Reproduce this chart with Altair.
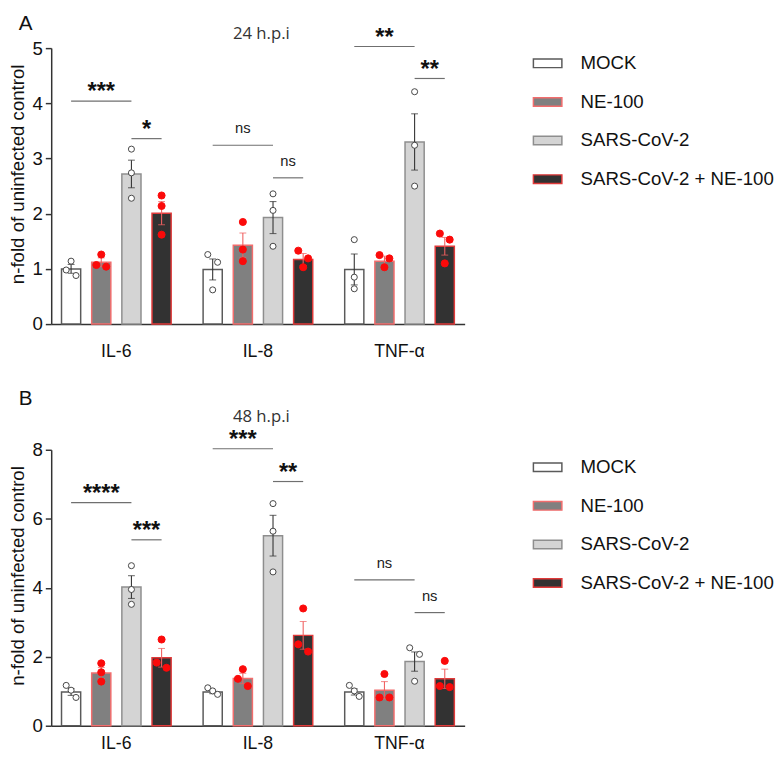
import altair as alt
import pandas as pd

# ---------------- data ----------------
cytokines = ["IL-6", "IL-8", "TNF-α"]
groups = ["MOCK", "NE-100", "SARS-CoV-2", "SARS-CoV-2 + NE-100"]

# Panel A : 24 h.p.i  (bar heights, SEM, individual replicates)
a_means = {"IL-6": [1.00, 1.12, 2.72, 2.01],
           "IL-8": [0.99, 1.43, 1.93, 1.17],
           "TNF-α": [0.99, 1.14, 3.30, 1.41]}
a_sems = {"IL-6": [0.08, 0.08, 0.25, 0.21],
          "IL-8": [0.19, 0.22, 0.29, 0.11],
          "TNF-α": [0.28, 0.09, 0.51, 0.16]}
a_reps = {"IL-6": [[0.98, 1.14, 0.88], [1.07, 1.26, 1.04], [3.17, 2.74, 2.28], [2.33, 2.14, 1.62]],
          "IL-8": [[1.26, 1.12, 0.62], [1.85, 1.35, 1.14], [2.36, 2.06, 1.41], [1.33, 1.19, 1.03]],
          "TNF-α": [[1.53, 0.85, 0.64], [1.25, 1.19, 1.03], [4.21, 3.24, 2.50], [1.64, 1.53, 1.10]]}
a_sig_cyt = ["IL-6", "IL-6", "IL-8", "IL-8", "TNF-α", "TNF-α"]
a_sig_from = ["MOCK", "SARS-CoV-2", "MOCK", "SARS-CoV-2", "MOCK", "SARS-CoV-2"]
a_sig_to = ["SARS-CoV-2", "SARS-CoV-2 + NE-100"] * 3
a_sig_y = [4.04, 3.36, 3.24, 2.65, 5.03, 4.45]
a_sig_label = ["***", "*", "ns", "ns", "**", "**"]

# Panel B : 48 h.p.i
b_means = {"IL-6": [0.98, 1.53, 4.02, 1.97],
           "IL-8": [0.98, 1.37, 5.51, 2.62],
           "TNF-α": [0.98, 1.03, 1.86, 1.36]}
b_sems = {"IL-6": [0.10, 0.16, 0.33, 0.27],
          "IL-8": [0.05, 0.15, 0.59, 0.40],
          "TNF-α": [0.09, 0.25, 0.28, 0.28]}
b_reps = {"IL-6": [[1.03, 1.17, 0.82], [1.81, 1.55, 1.28], [4.64, 3.95, 3.52], [2.50, 1.83, 1.68]],
          "IL-8": [[1.10, 1.01, 0.91], [1.64, 1.36, 1.15], [6.44, 5.64, 4.46], [3.40, 2.36, 2.15]],
          "TNF-α": [[1.01, 1.17, 0.85], [1.50, 0.82, 0.82], [2.26, 2.07, 1.29], [1.88, 1.15, 1.12]]}
b_sig_cyt = ["IL-6", "IL-6", "IL-8", "IL-8", "TNF-α", "TNF-α"]
b_sig_from = ["MOCK", "SARS-CoV-2", "MOCK", "SARS-CoV-2", "MOCK", "SARS-CoV-2"]
b_sig_to = ["SARS-CoV-2", "SARS-CoV-2 + NE-100"] * 3
b_sig_y = [6.47, 5.39, 8.03, 7.08, 4.23, 3.28]
b_sig_label = ["****", "***", "***", "**", "ns", "ns"]

# ---------------- styles ----------------
fill_colors = ["#ffffff", "#808080", "#d4d4d4", "#323232"]
stroke_colors = ["#5a5a5a", "#f26d6d", "#8e8e8e", "#e03a3a"]
FONT = "Liberation Sans"

W, H = 421, 281
X_PI, X_PO = 0.2, 0.06
O_PI, O_PO = 0.365, 0.06
step = W / (3 - X_PI + 2 * X_PO)
bw = (1 - X_PI) * step
ostep = bw / (4 - O_PI + 2 * O_PO)
o_first = O_PO * ostep + (1 - O_PI) * ostep / 2
OFF_Q = alt.Scale(domain=[0, 3], range=[o_first, o_first + 3 * ostep])
JIT = 5.0 / ostep  # sideways spread of overlapping dots (in group units)


def spread(vals, thr):
    """Beeswarm-like sideways slot for dots that would overlap."""
    order = sorted(range(len(vals)), key=lambda i: -vals[i])
    slots = [0] * len(vals)
    clusters, cur = [], [order[0]]
    for a, b in zip(order, order[1:]):
        if vals[a] - vals[b] < thr:
            cur.append(b)
        else:
            clusters.append(cur)
            cur = [b]
    clusters.append(cur)
    for c in clusters:
        if len(c) == 2:
            slots[c[0]], slots[c[1]] = -1, 1
        elif len(c) >= 3:
            slots[c[0]], slots[c[1]], slots[c[2]] = -1, 0, 1
    return slots


def panel(means, sems, reps, s_cyt, s_from, s_to, s_y, s_lab, ymax, yvals,
          letter, title, letter_y, title_y, legend_y, xlab_pad):
    bar_rows, pt_rows = [], []
    thr = 8.5 * ymax / H
    for c in cytokines:
        for gi, g in enumerate(groups):
            bar_rows.append({"cyt": c, "group": g, "gi": gi, "mean": means[c][gi],
                             "sem": sems[c][gi], "treated": "NE-100" in g})
            sl = spread(reps[c][gi], thr)
            for v, s in zip(reps[c][gi], sl):
                pt_rows.append({"cyt": c, "group": g, "gi": gi, "value": v,
                                "slot": s, "treated": "NE-100" in g})
    bars_df = pd.DataFrame(bar_rows)
    pts_df = pd.DataFrame(pt_rows)

    line_rows, txt_rows = [], []
    for k, (c, f, t, y, lab) in enumerate(zip(s_cyt, s_from, s_to, s_y, s_lab)):
        fi, ti = groups.index(f), groups.index(t)
        line_rows.append({"id": k, "cyt": c, "gi": fi, "y": y})
        line_rows.append({"id": k, "cyt": c, "gi": ti, "y": y})
        txt_rows.append({"cyt": c, "mid": (fi + ti) / 2, "y": y, "label": lab,
                         "star": lab != "ns"})
    line_df = pd.DataFrame(line_rows)
    txt_df = pd.DataFrame(txt_rows)

    X = alt.X("cyt:N", sort=cytokines,
              scale=alt.Scale(paddingInner=X_PI, paddingOuter=X_PO),
              axis=alt.Axis(title=None, labelAngle=0, ticks=False, tickSize=0,
                            labelPadding=xlab_pad, labelFont=FONT, labelFontSize=18,
                            labelColor="#111", domainColor="#333", domainWidth=1.5,
                            grid=False))
    yscale = alt.Scale(domain=[0, ymax], nice=False, zero=True)
    yaxis = alt.Axis(values=yvals, grid=False, title="n-fold of uninfected control",
                     titleFont=FONT, titleFontSize=19, titleFontWeight="normal",
                     titleColor="#111", titlePadding=5, titleY=128, labelFont=FONT,
                     labelFontSize=19, labelColor="#111", labelPadding=3,
                     tickSize=6, tickColor="#333", tickWidth=1.5,
                     domainColor="#333", domainWidth=1.5)
    XO = alt.XOffset("group:N", sort=groups,
                     scale=alt.Scale(paddingInner=O_PI, paddingOuter=O_PO))

    legend = alt.Legend(title=None, orient="none", legendX=490, legendY=legend_y,
                        symbolType="M-1,-0.3H1V0.3H-1Z", symbolSize=841,
                        symbolStrokeWidth=1.5, labelFont=FONT, labelFontSize=19,
                        labelColor="#111", labelOffset=18, labelLimit=0,
                        rowPadding=13.3, padding=0)

    base = alt.Chart(bars_df)
    bars = base.mark_bar(strokeWidth=1.5).encode(
        x=X, xOffset=XO,
        y=alt.Y("mean:Q", scale=yscale, axis=yaxis),
        fill=alt.Fill("group:N", sort=groups,
                      scale=alt.Scale(domain=groups, range=fill_colors), legend=legend),
        stroke=alt.Stroke("group:N", sort=groups,
                          scale=alt.Scale(domain=groups, range=stroke_colors), legend=legend),
    )
    errcolor = alt.condition("datum.treated", alt.value("#f06060"), alt.value("#333333"))
    err = base.transform_calculate(
        lo="datum.mean - datum.sem", hi="datum.mean + datum.sem"
    ).mark_rule(strokeWidth=1.1).encode(
        x=X, xOffset=XO,
        y=alt.Y("lo:Q", scale=yscale, axis=yaxis), y2="hi:Q", color=errcolor)
    caps = base.transform_calculate(
        lo="datum.mean - datum.sem", hi="datum.mean + datum.sem"
    ).transform_fold(["lo", "hi"], as_=["end", "ev"]).mark_tick(
        size=7, thickness=1.1).encode(
        x=X, xOffset=XO,
        y=alt.Y("ev:Q", scale=yscale, axis=yaxis), color=errcolor)

    pts = alt.Chart(pts_df).transform_calculate(
        v=f"datum.gi + datum.slot * {JIT}"
    ).mark_point(shape="circle", filled=True, strokeWidth=1, opacity=1).encode(
        x=X, xOffset=alt.XOffset("v:Q", scale=OFF_Q),
        y=alt.Y("value:Q", scale=yscale, axis=yaxis),
        fill=alt.condition("datum.treated", alt.value("#fb0a0a"), alt.value("#ffffff")),
        stroke=alt.condition("datum.treated", alt.value("#fb0a0a"), alt.value("#444444")),
        size=alt.condition("datum.treated", alt.value(52), alt.value(38)),
    )

    lines = alt.Chart(line_df).mark_line(color="#6f6f6f", strokeWidth=1.2).encode(
        x=X, xOffset=alt.XOffset("gi:Q", scale=OFF_Q),
        y=alt.Y("y:Q", scale=yscale, axis=yaxis), detail="id:N")

    stars = alt.Chart(txt_df).transform_filter("datum.star").mark_text(
        font=FONT, fontSize=24, fontWeight="bold", color="#111",
        baseline="alphabetic", dy=-2).encode(
        x=X, xOffset=alt.XOffset("mid:Q", scale=OFF_Q),
        y=alt.Y("y:Q", scale=yscale, axis=yaxis), text="label:N")
    ns = alt.Chart(txt_df).transform_filter("!datum.star").mark_text(
        font=FONT, fontSize=15, color="#222", baseline="alphabetic", dy=-12).encode(
        x=X, xOffset=alt.XOffset("mid:Q", scale=OFF_Q),
        y=alt.Y("y:Q", scale=yscale, axis=yaxis), text="label:N")

    ttl = alt.Chart(pd.DataFrame({"t": [title]})).mark_text(
        font="Open Sans", fontSize=17, color="#333", baseline="middle").encode(
        text="t:N", x=alt.value(214), y=alt.value(title_y))
    let = alt.Chart(pd.DataFrame({"t": [letter]})).mark_text(
        font=FONT, fontSize=21, color="#111", baseline="middle").encode(
        text="t:N", x=alt.value(-26), y=alt.value(letter_y))

    return alt.layer(bars, err, caps, pts, lines, stars, ns, ttl, let).resolve_scale(
        xOffset="independent").properties(width=W, height=H)


pA = panel(a_means, a_sems, a_reps, a_sig_cyt, a_sig_from, a_sig_to, a_sig_y, a_sig_label,
           5, [0, 1, 2, 3, 4, 5], "A", "24 h.p.i", -24.5, -14, 0, 19)
pB = panel(b_means, b_sems, b_reps, b_sig_cyt, b_sig_from, b_sig_to, b_sig_y, b_sig_label,
           8, [0, 2, 4, 6, 8], "B", "48 h.p.i", -52, -33.4, 2.3, 9)

chart = alt.vconcat(pA, pB, spacing=28).resolve_scale(
    x="independent", y="independent", fill="independent", stroke="independent"
).resolve_legend(fill="independent", stroke="independent").properties(
    padding={"top": -2, "left": 0, "right": 0, "bottom": 0}, background="white"
).configure_view(stroke=None)

chart.save("out.html", embed_options={"renderer": "svg", "actions": False})
